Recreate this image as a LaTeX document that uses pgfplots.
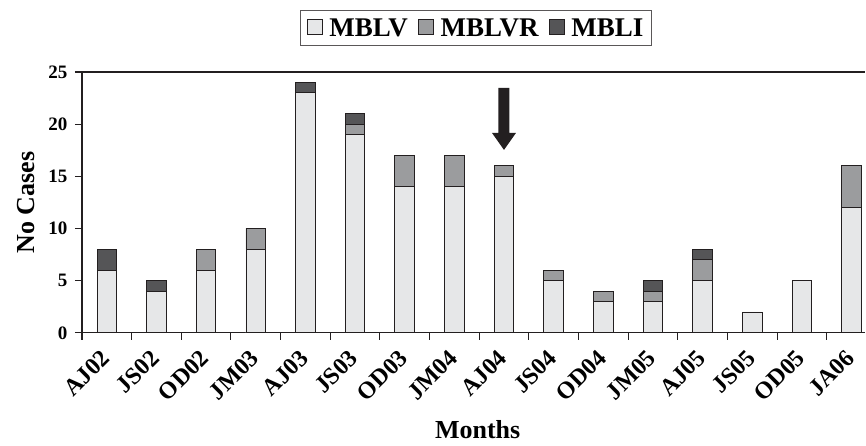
\documentclass[border=0pt]{standalone}
\usepackage{fontspec}
\setmainfont{Liberation Serif}
\usepackage{pgfplots}
\pgfplotsset{compat=1.18}
\definecolor{cLight}{RGB}{230,231,232}
\definecolor{cMid}{RGB}{155,156,158}
\definecolor{cDark}{RGB}{85,85,87}
\definecolor{cEdge}{RGB}{35,31,32}
\begin{document}
\begin{tikzpicture}
\begin{axis}[
  scale only axis, width=784pt, height=261pt,
  xmin=0, xmax=15.78, ymin=0, ymax=25,
  clip=false,
  axis x line*=bottom, axis y line*=left,
  axis line style={cEdge, line width=1.1pt},
  ybar stacked, bar width=19.5pt,
  xtick={0.5,1.5,...,15.5},
  xticklabels={AJ02,JS02,OD02,JM03,AJ03,JS03,OD03,JM04,AJ04,JS04,OD04,JM05,AJ05,JS05,OD05,JA06},
  minor xtick={0,...,15},
  ytick={0,5,...,25}, minor ytick={0,5,...,25},
  major tick length=0pt, minor tick length=7pt, tick align=outside,
  tick style={cEdge, line width=1.1pt},
  /pgf/number format/assume math mode=true,
  xticklabel style={font=\bfseries\fontsize{24}{24}\selectfont, xshift=-7pt, yshift=-14pt, rotate=45, anchor=north east, inner sep=1pt},
  yticklabel style={font=\bfseries\fontsize{19}{19}\selectfont, xshift=-11pt},
  xlabel={Months}, ylabel={No Cases},
  label style={font=\bfseries\fontsize{26}{26}\selectfont},
  xlabel style={at={(axis description cs:0.505,0)}, anchor=center, yshift=-97pt},
  ylabel style={at={(axis description cs:-0.0717,0.5)}, anchor=center},
  legend columns=3,
  legend style={at={(0.503,1)}, anchor=south, yshift=26pt, draw=cEdge!75, line width=0.8pt,
    font=\bfseries\fontsize{27}{27}\selectfont, inner xsep=6pt, inner ysep=6pt,
    /tikz/every odd column/.append style={column sep=5pt},
    /tikz/every even column/.append style={column sep=8pt}},
  legend image code/.code={\draw[#1, draw=cEdge, line width=0.8pt] (0pt,-6pt) rectangle (15pt,9pt);},
]
\addplot[fill=cLight, draw=cEdge, line width=0.9pt] coordinates {
(0.5,6) (1.5,4) (2.5,6) (3.5,8) (4.5,23) (5.5,19) (6.5,14) (7.5,14)
(8.5,15) (9.5,5) (10.5,3) (11.5,3) (12.5,5) (13.5,2) (14.5,5) (15.5,12)};
\addplot[fill=cMid, draw=cEdge, line width=0.9pt] coordinates {
(0.5,0) (1.5,0) (2.5,2) (3.5,2) (4.5,0) (5.5,1) (6.5,3) (7.5,3)
(8.5,1) (9.5,1) (10.5,1) (11.5,1) (12.5,2) (13.5,0) (14.5,0) (15.5,4)};
\addplot[fill=cDark, draw=cEdge, line width=0.9pt] coordinates {
(0.5,2) (1.5,1) (2.5,0) (3.5,0) (4.5,1) (5.5,1) (6.5,0) (7.5,0)
(8.5,0) (9.5,0) (10.5,0) (11.5,1) (12.5,1) (13.5,0) (14.5,0) (15.5,0)};
\legend{MBLV,MBLVR,MBLI}
\draw[cEdge, line width=1.1pt] (rel axis cs:0,1) -- (rel axis cs:1,1);
\fill[cEdge] ([xshift=-5.5pt]axis cs:8.5,23.47) -- ([xshift=5.5pt]axis cs:8.5,23.47)
  -- ([xshift=5.5pt]axis cs:8.5,19.16) -- ([xshift=12pt]axis cs:8.5,19.16)
  -- (axis cs:8.5,17.53) -- ([xshift=-12pt]axis cs:8.5,19.16)
  -- ([xshift=-5.5pt]axis cs:8.5,19.16) -- cycle;
\path (rel axis cs:-0.1046,-0.433) rectangle (rel axis cs:1,1.276);
\end{axis}
\end{tikzpicture}
\end{document}
